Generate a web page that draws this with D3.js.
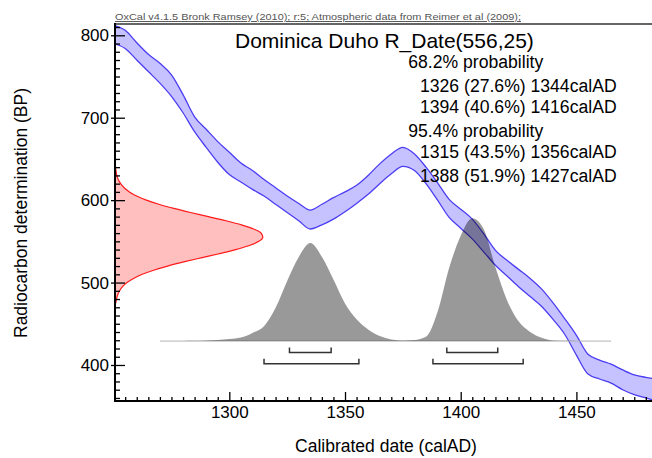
<!DOCTYPE html>
<html>
<head>
<meta charset="utf-8">
<script src="https://cdn.jsdelivr.net/npm/d3@7"></script>
<style>
body { margin: 0; background: #fff; }
text { font-family: "Liberation Sans", Arial, Helvetica, sans-serif; }
</style>
</head>
<body>
<div id="chart"></div>
<script>
// calibration curve band (BP), every 5 years
var calYears = [1250, 1255, 1260, 1265, 1270, 1275, 1280, 1285, 1290, 1295, 1300, 1305, 1310, 1315, 1320, 1325,
    1330, 1335, 1340, 1345, 1350, 1355, 1360, 1365, 1370, 1375, 1380, 1385, 1390, 1395, 1400, 1405,
    1410, 1415, 1420, 1425, 1430, 1435, 1440, 1445, 1450, 1455, 1460, 1465, 1470, 1475, 1480, 1485];
var curveUpper = [812, 806, 791, 777, 766, 752, 728, 701, 686, 671, 658, 645, 636, 625, 615, 605,
    596, 588, 595, 603, 610, 618, 630, 644, 656, 664, 656, 640, 621, 601, 589, 577,
    559, 539, 527, 516, 505, 492, 475, 456, 436, 413, 406, 401, 394, 388, 385, 383];
var curveLower = [790, 784, 770, 756, 742, 726, 706, 683, 664, 646, 631, 622, 613, 605, 595, 585,
    575, 565, 570, 577, 586, 596, 607, 620, 632, 641, 636, 620, 600, 579, 566, 553,
    537, 521, 508, 495, 483, 471, 455, 437, 412, 389, 383, 378, 370, 364, 360, 356];

// radiocarbon measurement 556 +/- 25 BP (relative probability)
var bpValues = [475, 480, 485, 490, 495, 500, 505, 510, 515, 520, 525, 530, 535, 540, 545, 550, 555,
    560, 565, 570, 575, 580, 585, 590, 595, 600, 605, 610, 615, 620, 625, 630, 635, 640, 645, 650];
var bpProb = [0.005, 0.010, 0.018, 0.031, 0.051, 0.081, 0.125, 0.184, 0.261, 0.355, 0.464, 0.582, 0.703, 0.815, 0.908, 0.972, 0.999,
    0.987, 0.937, 0.855, 0.749, 0.631, 0.510, 0.397, 0.296, 0.212, 0.146, 0.097, 0.062, 0.038, 0.022, 0.0125, 0.007, 0.0035, 0.0018, 0.0009];

// calibrated date distribution (relative probability)
var postYears = [1270, 1275, 1280, 1285, 1290, 1295, 1300, 1305, 1310, 1315, 1320, 1325, 1330, 1335, 1340, 1345,
    1350, 1355, 1360, 1365, 1370, 1375, 1380, 1385, 1390, 1395, 1400, 1405, 1410, 1415, 1420, 1425,
    1430, 1435, 1440, 1445, 1450, 1455, 1460, 1465];
var postProb = [0, 0, 0.001, 0.002, 0.004, 0.008, 0.016, 0.028, 0.066, 0.12, 0.268, 0.485, 0.678, 0.79, 0.68, 0.496,
    0.303, 0.176, 0.093, 0.04, 0.012, 0.004, 0.008, 0.034, 0.236, 0.59, 0.85, 0.99, 0.90, 0.595, 0.33, 0.16,
    0.074, 0.027, 0.005, 0.002, 0.001, 0, 0, 0];

// ranges
var ranges68 = [[1326, 1344], [1394, 1416]];
var pct68 = [27.6, 40.6];
var ranges95 = [[1315, 1356], [1388, 1427]];
var pct95 = [43.5, 51.9];

// ticks
var xMajor = [1300, 1350, 1400, 1450];
var xMinor = [1255, 1260, 1265, 1270, 1275, 1280, 1285, 1290, 1295, 1305, 1310, 1315, 1320, 1325, 1330, 1335, 1340, 1345,
    1355, 1360, 1365, 1370, 1375, 1380, 1385, 1390, 1395, 1405, 1410, 1415, 1420, 1425, 1430, 1435, 1440, 1445,
    1455, 1460, 1465, 1470, 1475, 1480];
var yMajor = [400, 500, 600, 700, 800];
var yMinor = [360, 370, 380, 390, 410, 420, 430, 440, 450, 460, 470, 480, 490, 510, 520, 530, 540, 550, 560, 570, 580, 590,
    610, 620, 630, 640, 650, 660, 670, 680, 690, 710, 720, 730, 740, 750, 760, 770, 780, 790, 810];

var width = 652, height = 458;
var plot = { left: 115, top: 24, right: 652, bottom: 401 };
var font = "'Liberation Sans', Arial, Helvetica, sans-serif";

var x = d3.scaleLinear().domain([1250.6, 1485]).range([115, 657.4]);
var y = d3.scaleLinear().domain([356.3, 813.7]).range([401, 24]);

var svg = d3.select("#chart").append("svg")
    .attr("width", width)
    .attr("height", height);

svg.append("defs").append("clipPath").attr("id", "clip").append("rect")
    .attr("x", plot.left)
    .attr("y", plot.top)
    .attr("width", plot.right - plot.left)
    .attr("height", plot.bottom - plot.top);

var g = svg.append("g").attr("clip-path", "url(#clip)");

// radiocarbon measurement on the y axis
var rw = d3.scaleLinear().domain([0, 1]).range([0, 148]);
var measured = bpValues.map((b, i) => ({ bp: b, p: bpProb[i] })).reverse();

g.append("path")
    .datum(measured)
    .attr("fill", "#ffbfbf")
    .attr("d", d3.area().curve(d3.curveMonotoneY)
        .y(d => y(d.bp))
        .x0(plot.left)
        .x1(d => plot.left + rw(d.p)));

g.append("path")
    .datum(measured)
    .attr("fill", "none")
    .attr("stroke", "#ff1a1a")
    .attr("stroke-width", 1.2)
    .attr("d", d3.line().curve(d3.curveMonotoneY)
        .y(d => y(d.bp))
        .x(d => plot.left + rw(d.p)));

// calibration curve
var cal = calYears.map((t, i) => ({ t: t, hi: curveUpper[i], lo: curveLower[i] }));

g.append("path")
    .datum(cal)
    .attr("fill", "#c6c2ff")
    .attr("d", d3.area().curve(d3.curveMonotoneX)
        .x(d => x(d.t))
        .y0(d => y(d.lo))
        .y1(d => y(d.hi)));

["hi", "lo"].forEach(k => {
    g.append("path")
        .datum(cal)
        .attr("fill", "none")
        .attr("stroke", "#4b3df2")
        .attr("stroke-width", 1.3)
        .attr("d", d3.line().curve(d3.curveMonotoneX)
            .x(d => x(d.t))
            .y(d => y(d[k])));
});

// calibrated distribution
var baseBP = 429;
var ph = d3.scaleLinear().domain([0, 1]).range([0, 124]);
var post = postYears.map((t, i) => ({ t: t, p: postProb[i] }));

g.append("line")
    .attr("x1", x(postYears[0]))
    .attr("x2", x(postYears[postYears.length - 1]))
    .attr("y1", y(baseBP))
    .attr("y2", y(baseBP))
    .attr("stroke", "#b4b4b4")
    .attr("stroke-width", 1);

g.append("path")
    .datum(post)
    .attr("fill", "#000")
    .attr("fill-opacity", 0.4)
    .attr("d", d3.area().curve(d3.curveMonotoneX)
        .x(d => x(d.t))
        .y0(y(baseBP))
        .y1(d => y(baseBP) - ph(d.p)));

// range brackets
function bracket(r, bp) {
    var yy = y(bp);
    return "M" + x(r[0]) + "," + (yy - 5) + "V" + yy + "H" + x(r[1]) + "V" + (yy - 5);
}
ranges68.forEach(r => g.append("path").attr("d", bracket(r, 415))
    .attr("fill", "none").attr("stroke", "#333").attr("stroke-width", 1.5));
ranges95.forEach(r => g.append("path").attr("d", bracket(r, 401.5))
    .attr("fill", "none").attr("stroke", "#333").attr("stroke-width", 1.5));

// axes
function styleAxis(sel) {
    sel.select(".domain").remove();
    sel.selectAll(".tick line").attr("stroke", "#000").attr("stroke-width", 1.3);
    sel.attr("font-size", 17).attr("font-family", font);
    sel.selectAll(".tick text").attr("fill", "#000");
}

svg.append("g").attr("transform", "translate(" + plot.left + ",0)")
    .call(d3.axisLeft(y).tickValues(yMinor).tickSize(-5).tickFormat(""))
    .call(styleAxis);
svg.append("g").attr("transform", "translate(" + plot.left + ",0)")
    .call(d3.axisLeft(y).tickValues(yMajor).tickSize(-10).tickFormat(""))
    .call(styleAxis);
svg.append("g").attr("transform", "translate(" + plot.left + ",0)")
    .call(d3.axisLeft(y).tickValues(yMajor).tickSize(4).tickPadding(2).tickFormat(d3.format("d")))
    .call(styleAxis);

svg.append("g").attr("transform", "translate(0," + plot.bottom + ")")
    .call(d3.axisBottom(x).tickValues(xMinor).tickSize(-4).tickFormat(""))
    .call(styleAxis);
svg.append("g").attr("transform", "translate(0," + plot.bottom + ")")
    .call(d3.axisBottom(x).tickValues(xMajor).tickSize(-9).tickPadding(5).tickFormat(d3.format("d")))
    .call(styleAxis);

// frame
svg.append("line")
    .attr("x1", plot.left).attr("x2", plot.right)
    .attr("y1", plot.top).attr("y2", plot.top)
    .attr("stroke", "#666").attr("stroke-width", 2);
svg.append("line")
    .attr("x1", plot.left).attr("x2", plot.left)
    .attr("y1", plot.top - 1).attr("y2", plot.bottom + 1)
    .attr("stroke", "#000").attr("stroke-width", 2);
svg.append("line")
    .attr("x1", plot.left).attr("x2", plot.right)
    .attr("y1", plot.bottom).attr("y2", plot.bottom)
    .attr("stroke", "#000").attr("stroke-width", 2);

// texts
svg.append("text")
    .attr("x", plot.left)
    .attr("y", 20)
    .attr("font-size", 9.6)
    .attr("fill", "#555")
    .attr("text-decoration", "underline")
    .attr("textLength", 406)
    .attr("lengthAdjust", "spacingAndGlyphs")
    .text("OxCal v4.1.5 Bronk Ramsey (2010); r:5; Atmospheric data from Reimer et al (2009);");

svg.append("text")
    .attr("x", 235)
    .attr("y", 48.3)
    .attr("font-size", 21)
    .attr("fill", "#000")
    .text("Dominica Duho R_Date(556,25)");

var lines = [
    { t: "68.2% probability", x: 408.3, y: 68 },
    { t: ranges68[0][0] + " (" + pct68[0] + "%) " + ranges68[0][1] + "calAD", x: 420, y: 91.7 },
    { t: ranges68[1][0] + " (" + pct68[1] + "%) " + ranges68[1][1] + "calAD", x: 420, y: 113.3 },
    { t: "95.4% probability", x: 408.3, y: 136.7 },
    { t: ranges95[0][0] + " (" + pct95[0] + "%) " + ranges95[0][1] + "calAD", x: 420, y: 158.3 },
    { t: ranges95[1][0] + " (" + pct95[1] + "%) " + ranges95[1][1] + "calAD", x: 420, y: 181.7 }
];
svg.selectAll(".prob")
    .data(lines)
    .enter().append("text")
    .attr("class", "prob")
    .attr("x", d => d.x)
    .attr("y", d => d.y)
    .attr("font-size", 17.6)
    .attr("fill", "#000")
    .text(d => d.t);

// X Axis Label
svg.append("text")
    .attr("x", 386)
    .attr("y", 452)
    .attr("text-anchor", "middle")
    .attr("font-size", 17.5)
    .text("Calibrated date (calAD)");

// Y Axis Label
svg.append("text")
    .attr("transform", "translate(26.5,213) rotate(-90)")
    .attr("text-anchor", "middle")
    .attr("font-size", 17.5)
    .text("Radiocarbon determination (BP)");
</script>
</body>
</html>
